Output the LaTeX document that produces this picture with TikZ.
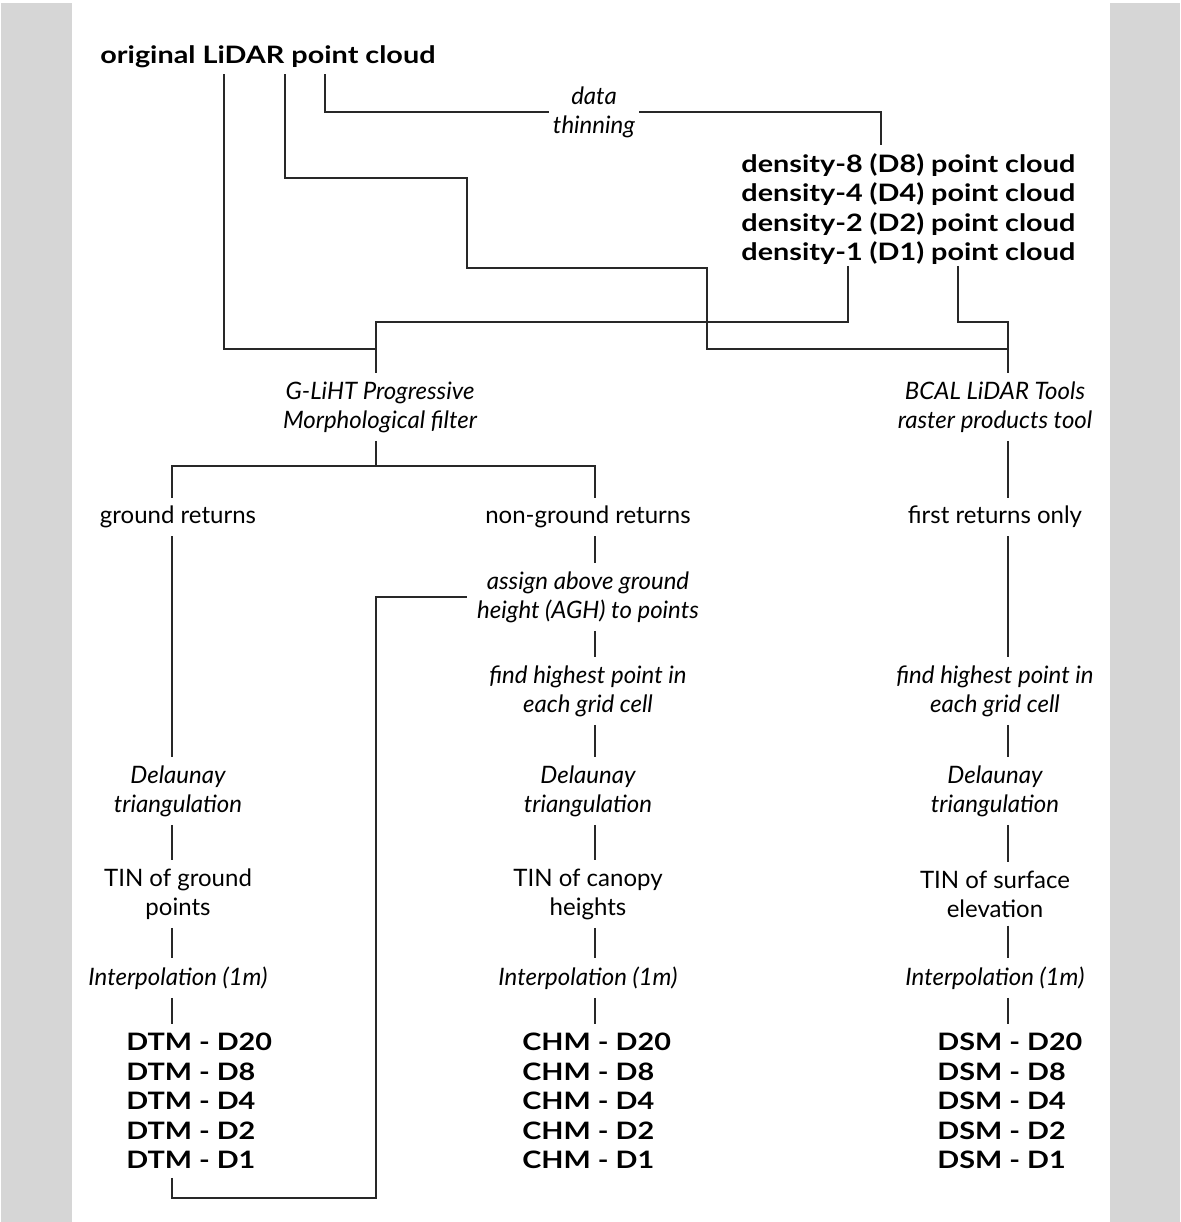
\documentclass[tikz,border=0pt]{standalone}
\usepackage{fontspec}
\setmainfont{Lato}
\newfontfamily\wideface[FakeStretch=1.2]{Lato}
\usetikzlibrary{positioning}
\definecolor{sidegray}{RGB}{214,214,214}
\definecolor{linegray}{RGB}{40,40,40}

\tikzset{
  plain/.style={align=center, inner xsep=2pt, inner ysep=4pt, font=\fontsize{12}{14.5}\selectfont},
  proc/.style={plain, font=\fontsize{12}{14.5}\selectfont\itshape},
  prod/.style={align=left, inner xsep=0pt, inner ysep=4.5pt, font=\fontsize{12}{14.7}\selectfont\wideface\bfseries},
  link/.style={draw=linegray, line width=0.65pt}
}

\begin{document}
\begin{tikzpicture}[x=0.5pt, y=-0.5pt]
  \useasboundingbox (0,0) rectangle (1180,1222);
  \fill[sidegray] (1,3) rectangle (72,1222);
  \fill[sidegray] (1110,3) rectangle (1180,1222);

  % column lines
  \coordinate (xL) at (172,0);
  \coordinate (xG) at (376,0);
  \coordinate (xC) at (595,0);
  \coordinate (xR) at (1008,0);
  \coordinate (kG) at (376,322);
  \coordinate (kB) at (1008,322);
  \coordinate (jG) at (376,349);
  \coordinate (jB) at (1008,349);
  \coordinate (hG) at (376,466);

  % sources
  \node[prod, anchor=west, inner ysep=3pt] (orig) at (100,57) {original LiDAR point cloud};
  \node[proc] (thin) at (594,112) {data\\thinning};
  \node[prod, anchor=west, inner ysep=0.5pt] (dens) at (741,209) {density-8 (D8) point cloud\\density-4 (D4) point cloud\\density-2 (D2) point cloud\\density-1 (D1) point cloud};
  \node[proc] (glt) at (380,407) {G-LiHT Progressive\\Morphological filter};
  \node[proc] (bcal) at (995,407) {BCAL LiDAR Tools\\raster products tool};

  % left column
  \node[plain] (gret) at (178,517) {ground returns};
  \node[proc] (delL) at (178,791) {Delaunay\\triangulation};
  \node[plain] (tinL) at (178,894) {TIN of ground\\points};
  \node[proc] (intL) at (178,978) {Interpolation (1m)};
  \node[prod, anchor=west] (dtm) at (126,1101) {DTM - D20\\DTM - D8\\DTM - D4\\DTM - D2\\DTM - D1};

  % centre column
  \node[plain] (ngret) at (588,517) {non-ground returns};
  \node[proc, inner xsep=5pt] (agh) at (588,597) {assign above ground\\height (AGH) to points};
  \node[proc] (findC) at (588,691) {find highest point in\\each grid cell};
  \node[proc] (delC) at (588,791) {Delaunay\\triangulation};
  \node[plain] (tinC) at (588,894) {TIN of canopy\\heights};
  \node[proc] (intC) at (588,978) {Interpolation (1m)};
  \node[prod, anchor=west] (chm) at (522,1101) {CHM - D20\\CHM - D8\\CHM - D4\\CHM - D2\\CHM - D1};

  % right column
  \node[plain] (fret) at (995,517) {first returns only};
  \node[proc] (findR) at (995,691) {find highest point in\\each grid cell};
  \node[proc] (delR) at (995,791) {Delaunay\\triangulation};
  \node[plain] (tinR) at (995,894) {TIN of surface\\elevation};
  \node[proc] (intR) at (995,978) {Interpolation (1m)};
  \node[prod, anchor=west] (dsm) at (937,1101) {DSM - D20\\DSM - D8\\DSM - D4\\DSM - D2\\DSM - D1};

  % top connectors
  \draw[link] ([xshift=62pt]orig.south west) |- (jG);
  \draw[link] ([xshift=92.5pt]orig.south west) |- (467,178) |- (707,268) |- (jB);
  \draw[link] ([xshift=112.5pt]orig.south west) |- (thin.west);
  \draw[link] (thin.east) -| ([xshift=70pt,yshift=3.5pt]dens.north west);
  \draw[link] ([xshift=53.5pt]dens.south west) |- (kG) -- (glt.north -| xG);
  \draw[link] ([xshift=108.5pt]dens.south west) |- (kB) -- (bcal.north -| xR);
  \draw[link] (glt.south -| xG) -- (hG);
  \draw[link] (gret.north -| xL) |- (hG) -| (ngret.north -| xC);
  \draw[link] (bcal.south -| xR) -- (fret.north -| xR);

  % left chain
  \draw[link] (gret.south -| xL) -- (delL.north -| xL);
  \draw[link] (delL.south -| xL) -- (tinL.north -| xL);
  \draw[link] (tinL.south -| xL) -- (intL.north -| xL);
  \draw[link] (intL.south -| xL) -- (dtm.north -| xL);
  \draw[link] (dtm.south -| xL) |- (376,1198) |- (agh.west);

  % centre chain
  \draw[link] (ngret.south -| xC) -- (agh.north -| xC);
  \draw[link] (agh.south -| xC) -- (findC.north -| xC);
  \draw[link] (findC.south -| xC) -- (delC.north -| xC);
  \draw[link] (delC.south -| xC) -- (tinC.north -| xC);
  \draw[link] (tinC.south -| xC) -- (intC.north -| xC);
  \draw[link] (intC.south -| xC) -- (chm.north -| xC);

  % right chain
  \draw[link] (fret.south -| xR) -- (findR.north -| xR);
  \draw[link] (findR.south -| xR) -- (delR.north -| xR);
  \draw[link] (delR.south -| xR) -- (tinR.north -| xR);
  \draw[link] (tinR.south -| xR) -- (intR.north -| xR);
  \draw[link] (intR.south -| xR) -- (dsm.north -| xR);
\end{tikzpicture}
\end{document}
